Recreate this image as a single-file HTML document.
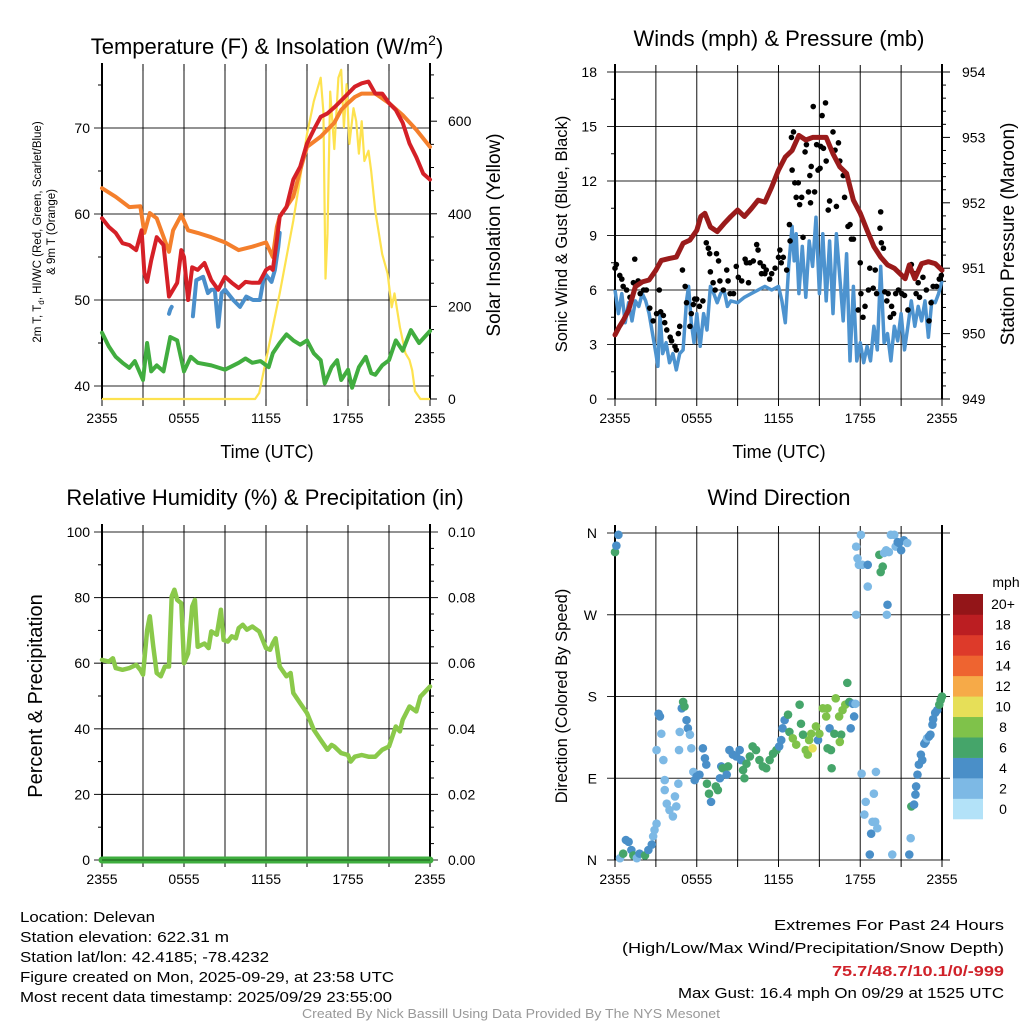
<!DOCTYPE html>
<html><head><meta charset="utf-8"><style>
html,body{margin:0;padding:0;background:#fff;}
svg{display:block;font-family:"Liberation Sans",Arial,sans-serif;}
</style></head><body>
<svg id="fig" width="1024" height="1024" viewBox="0 0 1024 1024" xmlns="http://www.w3.org/2000/svg"></svg>
<script>
// ---------- Panel 1: temperature & insolation ----------
const tempHours=[0,0.5,1,1.5,2,2.5,2.9,3.1,3.3,3.6,4,4.5,4.9,5.2,5.5,5.8,6,6.3,6.6,7,7.5,8,8.5,9,9.5,10,10.5,11,11.5,12,12.3,12.5,12.8,13,13.5,14,14.5,15,15.5,16,16.5,17,17.5,18,18.5,19,19.5,20,20.5,21,21.5,22,22.5,23,23.5,24];
const tempVals=[59.5,58.5,57.8,56.6,56.4,55.8,58.1,53.1,52.1,54.6,57.3,56.4,50.4,51.2,52,55.8,55,50,53.8,53.5,54.3,52.3,51.2,52.7,52,51.4,52.1,52,52,53.5,53.8,53.5,57,59.7,60.8,64,65.5,68.2,69.8,71.3,71.7,72.4,73.2,74,74.8,75.2,75.4,74,74,72.9,72.1,70.6,68.2,66.6,64.7,64];
const t9Hours=[0,1,2,2.8,3.1,3.5,4,4.9,5.2,5.8,6.3,7,8,9,10,11,12,12.5,12.8,13,14,14.5,15,16,17,17.5,18,18.5,19,20,21,22,23,24];
const t9Vals=[63,62,60.8,60.9,57.8,60.1,59.5,55.6,58.1,59.9,58.1,57.8,57.3,56.7,55.8,56.2,56.7,55,58.5,59.7,62,65.1,67.8,69,70.6,72.1,72.9,73.6,74,74,72.9,71.5,69.8,67.8];
const wcHours=[4.9,5.0,5.1,null,6.65,6.9,7.4,7.75,8.0,8.25,8.5,8.75,9.0,9.6,10.1,10.55,11.05,11.55,11.9,12.4,12.65,12.9,13.0];
const wcVals=[48.4,48.9,49.2,null,48.1,52.3,52.7,50.8,51.2,51.2,46.9,50.8,51.2,50,49.2,50.4,50,50,53.1,52.1,53.5,56.2,57.8];
const dewHours=[0,0.5,1,1.5,2,2.4,3,3.3,3.6,4,4.5,5,5.5,6,6.5,7,8,9,10,10.5,11,11.6,12.2,12.5,13,13.5,14,14.5,15,15.5,16,16.3,16.8,17.2,17.5,18,18.3,18.8,19.3,19.7,20,20.5,21,21.5,22,22.6,23.2,24];
const dewVals=[46.2,44.6,43.4,42.7,42.1,42.9,40.7,45,41.7,42.4,41.7,45.7,45.3,41.7,43.4,42.7,42.4,41.9,42.7,43.2,42.7,42.9,42.2,43.8,45,46,45.3,44.8,45.3,43.8,43,40.3,42.2,43,40.7,41.9,39.8,42.2,43.4,41.5,41.3,42.4,43,45.3,44.1,46.5,45,46.4];
const solHours=[0,11.2,11.5,12,13,14,14.5,15,15.5,16,16.2,16.35,16.5,16.7,17,17.3,17.5,17.7,17.9,18.1,18.4,18.6,18.8,19,19.2,19.5,19.7,20,20.5,20.9,21.2,21.4,21.8,22.2,22.5,22.7,22.9,23.3,24];
const solVals=[0,0,13,84,228,385,478,572,643,694,620,260,357,664,540,694,711,587,680,551,628,600,530,600,514,536,492,406,313,271,198,228,155,99,84,62,17,0,0];
const p1TempTicks=[40,50,60,70];
const p1SolTicks=[0,200,400,600];
// ---------- Panel 2: winds & pressure ----------
const presHours=[0,0.3,0.6,1,1.5,2,2.5,3,3.4,4,4.5,5,5.5,6,6.3,6.6,7,7.5,8,8.5,9,9.5,10,10.5,11,11.5,12,12.5,13,13.5,14,14.5,15,15.5,16,16.5,17,17.5,18,18.5,19,19.5,20,20.5,21,21.3,21.6,22,22.5,23,23.5,24];
const presVals=[949.98,950.1,950.2,950.36,950.72,950.79,950.82,950.97,951.12,951.15,951.17,951.38,951.43,951.58,951.79,951.84,951.63,951.56,951.68,951.79,951.89,951.79,951.91,952.04,952.01,952.24,952.5,952.7,952.8,953.03,952.96,953.0,953.0,953.0,952.75,952.55,952.45,952.04,951.84,951.58,951.33,951.17,951.05,951.0,950.9,950.84,951.05,950.84,951.07,951.1,951.07,950.97];
const windHours=[0,0.25,0.5,0.75,1,1.25,1.5,1.75,2,2.25,2.5,2.75,3,3.15,3.3,3.5,3.75,4,4.25,4.5,4.75,5,5.25,5.4,5.6,5.8,6,6.25,6.5,6.75,7,7.25,7.5,7.75,8,8.25,8.5,9,9.5,10,10.5,11,11.5,12,12.25,12.5,12.75,13,13.15,13.3,13.5,13.75,14,14.25,14.5,14.75,15,15.25,15.5,15.75,16,16.25,16.5,16.75,17,17.25,17.5,17.75,18,18.25,18.5,18.75,19,19.25,19.5,19.75,20,20.25,20.5,20.75,21,21.25,21.5,21.75,22,22.25,22.5,22.75,23,23.25,23.5,23.75,24];
const windVals=[6.0,4.7,5.8,4.2,5.3,4.3,5.4,5.1,5.8,5.4,4.7,3.6,2.5,1.8,4.7,2.5,3.1,2.0,2.5,1.6,2.5,2.7,5.4,6.2,4.2,3.1,4.7,2.9,4.7,3.8,6.2,5.8,5.3,5.8,6.0,5.1,5.4,5.3,5.6,5.8,6.0,6.2,6.0,6.2,5.4,4.2,7.3,9.5,7.6,9.1,5.8,8.4,5.6,8.7,7.3,10.0,5.8,9.1,5.4,8.7,4.7,9.1,6.7,4.3,8.0,2.1,6.2,2.1,3.1,2.0,2.9,2.1,4.0,2.7,7.3,3.1,3.6,2.1,4.0,3.2,4.7,2.7,4.0,5.4,4.0,5.1,4.3,5.4,3.4,5.4,5.3,5.8,6.5];
const gustHours=[0,0.1,0.35,0.5,0.6,0.85,1.1,1.45,1.35,1.7,1.85,2.1,2.3,2.55,2.8,3.05,3.25,3.35,3.55,3.65,3.8,4.05,4.15,4.4,4.5,4.65,4.75,4.95,5.15,5.25,5.5,5.6,5.75,5.85,6.0,6.2,6.45,6.7,6.85,6.95,7.0,7.2,7.35,7.45,7.6,7.7,7.95,8.2,8.3,8.45,8.7,8.9,9.05,9.3,9.55,9.65,9.8,9.9,10.15,10.4,10.5,10.65,10.75,10.9,11.0,11.1,11.35,11.5,11.75,12.0,12.1,12.2,12.35,12.6,12.8,12.85,12.95,13.1,13.0,13.2,13.3,13.45,13.55,13.7,13.8,13.95,14.05,14.2,14.3,14.35,14.4,14.55,14.65,14.8,14.9,15.05,15.1,15.2,15.3,15.45,15.5,15.65,15.75,16.0,16.15,16.25,16.4,16.5,16.75,16.85,17.0,17.1,17.25,17.35,17.5,18.0,17.85,18.05,18.2,18.35,18.6,18.7,18.95,19.1,19.2,19.45,19.5,19.55,19.7,19.8,19.95,20.05,20.2,20.3,20.45,20.6,20.8,21.05,21.25,21.5,21.75,22.0,22.1,22.25,22.35,22.6,22.85,23.05,23.2,23.35,23.6,23.8,23.95];
const gustVals=[7.2,7.4,6.8,6.6,6.2,6.0,5.6,7.7,6.4,6.5,5.8,6.0,6.0,5.0,4.3,4.7,6.0,4.8,4.6,4.2,3.8,3.4,3.2,2.9,2.7,3.6,4.0,7.1,6.2,5.3,4.0,4.7,5.2,5.5,5.5,5.1,5.4,8.6,8.3,8.0,7.0,6.4,6.0,8.0,7.6,6.5,6.0,7.1,6.5,5.8,5.8,7.3,6.7,6.5,7.7,7.5,6.4,7.5,7.6,8.5,8.2,7.5,6.9,7.3,6.9,7.1,6.6,6.9,7.2,7.8,8.2,7.5,7.8,7.1,9.6,8.7,14.4,14.7,12.6,11.9,11.1,11.9,10.7,11.1,8.9,13.6,14.0,11.4,12.3,10.8,12.8,16.1,11.4,14.0,12.6,12.7,13.9,15.6,13.8,16.3,13.1,10.4,10.9,14.7,13.7,10.6,14.1,13.1,12.3,11.1,12.3,9.5,9.6,8.8,8.8,7.5,4.9,5.8,4.5,5.1,6.0,7.2,6.1,7.1,5.8,9.4,10.3,8.6,8.3,5.9,5.4,5.8,4.5,5.1,4.7,5.8,6.0,5.8,5.7,4.9,7.4,6.9,5.8,6.4,5.6,6.7,6.0,4.3,5.3,6.2,6.2,6.6,6.8];
const p2SpeedTicks=[0,3,6,9,12,15,18];
const p2PresTicks=[949,950,951,952,953,954];
// ---------- Panel 3: RH & precipitation ----------
const rhHours=[0,0.5,0.8,1,1.5,2,2.5,2.8,3,3.3,3.5,3.75,4,4.3,4.6,4.9,5.1,5.3,5.5,5.8,6,6.3,6.6,6.8,7,7.5,7.8,8,8.4,8.7,8.9,9.2,9.5,9.8,10,10.3,10.6,11,11.5,12,12.3,12.5,12.7,13,13.5,13.8,14,14.5,15,15.5,16,16.5,16.8,17,17.5,18,18.2,18.5,19,19.5,20,20.5,21,21.5,21.8,22,22.5,23,23.3,24];
const rhVals=[61,60.5,61.5,58.5,58,58.5,59.5,58,56.5,70,74.3,65,57,56,59,59,80.4,82.4,79.3,78.3,60,63,77.3,79.3,65,66,64.6,69.7,68.7,76.3,67.1,66.6,68.2,67.6,70.7,71.7,70.2,71.2,69.7,64.6,64.1,66.1,67.6,59,56,57,50.9,47.8,44.8,39.7,36.6,33.6,35.1,34.6,32.6,32,30,31.5,32,31.5,31.5,33.6,34.6,40.7,39.2,42.7,46.8,45.3,49.8,52.9];
const precipHours=[0,24];
const precipVals=[0,0];
const p3RhTicks=[0,20,40,60,80,100];
const p3PrTicks=["0.00","0.02","0.04","0.06","0.08","0.10"];
// ---------- Panel 4: wind direction ----------
const dirHours=[0,0.1,0.25,0.37,0.6,0.8,1.0,1.2,1.35,1.6,1.8,2.2,2.45,2.7,2.8,2.9,3.05,3.2,3.3,3.05,3.4,3.55,3.65,3.65,3.8,4.0,4.25,4.4,4.5,4.65,4.7,4.75,4.9,5.0,5.1,5.25,5.35,5.5,5.6,5.75,5.85,6.0,6.2,6.45,6.6,6.7,6.75,6.9,7.05,7.4,7.55,7.7,7.8,7.9,8.2,8.3,8.4,8.65,8.9,9.15,9.25,9.4,9.5,9.65,9.9,10.1,10.35,10.6,10.85,11.1,11.35,11.6,11.85,12.05,12.2,12.3,12.45,12.7,12.8,13.05,13.3,13.55,13.65,13.8,14.0,14.15,14.25,14.4,14.5,14.75,14.9,15.0,15.25,15.5,15.6,15.75,15.6,15.85,15.9,16.1,16.2,16.45,16.6,16.5,16.7,16.9,17.05,17.2,17.3,17.45,17.55,17.65,17.7,17.7,17.8,17.9,18.05,18.1,18.15,18.4,18.55,18.55,18.3,18.7,18.8,18.9,19.0,19.1,19.15,19.25,19.4,19.5,19.65,19.75,19.9,20.0,19.95,20.1,20.25,20.35,20.5,20.6,20.75,20.85,21.0,21.2,21.45,21.6,21.7,21.75,21.95,22.05,22.1,22.2,22.3,22.45,22.55,22.7,22.8,22.9,23.05,23.15,23.3,23.35,23.5,23.65,23.8,23.9,24.0];
const dirVals=[339,346,358,2,7,22,20,11,5,2,7,5,11,17,26,33,40,161,158,121,139,110,88,77,62,55,48,70,59,84,121,141,167,174,169,154,145,138,123,97,88,92,94,123,112,105,84,73,64,81,77,90,103,101,94,103,121,116,114,121,110,99,90,106,114,125,121,110,103,101,110,117,121,125,132,145,154,160,141,134,127,171,150,138,121,116,132,139,123,147,132,139,167,158,167,145,123,121,101,139,178,158,138,130,165,171,195,174,145,172,158,172,270,345,332,325,358,95,325,64,325,301,50,6,29,42,73,42,97,35,336,317,323,338,341,281,270,339,358,6,358,345,350,349,341,352,349,6,24,59,61,72,81,94,105,116,110,128,130,134,136,138,149,155,162,165,171,176,180];
const dirSpeeds=[6,4,4,2,6,4,4,4,6,2,4,6,4,4,2,2,2,4,4,2,2,2,2,2,2,2,2,2,2,2,2,2,4,6,6,4,4,2,2,2,4,4,4,4,4,4,6,6,4,6,6,4,4,6,4,6,4,4,4,4,4,6,6,6,6,6,6,6,6,6,6,6,6,4,4,4,4,6,6,8,8,6,6,6,8,8,8,8,10,8,4,8,8,8,8,4,6,6,6,6,8,8,6,8,8,8,6,6,4,4,4,2,2,2,2,2,2,2,2,2,4,2,2,4,4,2,2,2,2,2,6,6,6,2,2,4,2,2,2,2,2,2,4,4,4,4,2,4,2,6,4,4,4,4,4,4,4,4,4,2,4,4,4,4,4,4,6,6,6];
const dirTickLabels=["N","E","S","W","N"];
const cbarLabels=["0","2","4","6","8","10","12","14","16","18","20+"];
const cbarColors=["#b3e2f8","#7db9e5","#4a8fc8","#45a56a","#7fc24a","#e6df58","#f6aa48","#ee6430","#dd3a2a","#bb1e22","#931518"];
const xTickLabels=["2355","0555","1155","1755","2355"];

const NS="http://www.w3.org/2000/svg";
const svg=document.getElementById("fig");
function el(tag,attrs,parent){const e=document.createElementNS(NS,tag);for(const k in attrs)e.setAttribute(k,attrs[k]);(parent||svg).appendChild(e);return e;}
function txt(s,x,y,size,anchor,parent,extra){const t=el("text",Object.assign({x:x,y:y,"font-size":size,"text-anchor":anchor||"start",fill:"#000"},extra||{}),parent);t.textContent=s;return t;}
function pathD(xs,ys,fx,fy){let d="",pen=false;for(let i=0;i<xs.length;i++){if(xs[i]===null||ys[i]===null){pen=false;continue;}d+=(pen?"L":"M")+fx(xs[i]).toFixed(1)+","+fy(ys[i]).toFixed(1);pen=true;}return d;}

// generic panel frame
function frame(g,L,R,T,B,name){
  for(let h=3;h<24;h+=3){const x=L+h*(R-L)/24;const l=el("line",{x1:x,y1:T,x2:x,y2:B,stroke:"#000","stroke-width":1.1,opacity:0.85},g);
  
  }
  for(let h=0;h<=24;h+=3){const x=L+h*(R-L)/24;el("line",{x1:x,y1:B,x2:x,y2:B+7,stroke:"#000","stroke-width":1},g);el("line",{x1:x,y1:T,x2:x,y2:T-7,stroke:"#000","stroke-width":1},g);}
  xTickLabels.forEach((s,i)=>{const t=txt(s,L+i*6*(R-L)/24,B+24,14,"middle",g);
  
  });
}
function border(g,L,R,T,B){el("line",{x1:L,y1:T-8,x2:L,y2:B,stroke:"#000","stroke-width":2},g);el("line",{x1:R,y1:T-8,x2:R,y2:B,stroke:"#000","stroke-width":2},g);}

// ===== Panel 1 =====
{const L=102,R=430,T=71,B=399;
 const g=el("g",{});
 
 
 const X=h=>L+h*(R-L)/24, YT=t=>386-(t-40)*8.6, YI=v=>399-v*0.463;
 frame(g,L,R,T,B);
 p1TempTicks.forEach(v=>{const y=YT(v);el("line",{x1:L-8,y1:y,x2:R,y2:y,stroke:"#000","stroke-width":1.1,opacity:0.85},g);const t=txt(String(v),90,y+5,14,"end",g);
  
  });
 for(let v=45;v<=75;v+=10){const y=YT(v);el("line",{x1:L-4,y1:y,x2:L,y2:y,stroke:"#000"},g);}
 p1SolTicks.forEach(v=>{const y=YI(v);el("line",{x1:R,y1:y,x2:R+7,y2:y,stroke:"#000"},g);const t=txt(String(v),448,y+5,14,"start",g);
  
  });
 for(let v=50;v<=700;v+=50){if(v%200)el("line",{x1:R,y1:YI(v),x2:R+4,y2:YI(v),stroke:"#000"},g);}
 border(g,L,R,T,B);
 const sol=el("path",{d:pathD(solHours,solVals,X,YI),fill:"none",stroke:"#fde24f","stroke-width":2.2,"stroke-linejoin":"round"},g);
 
 
 const dew=el("path",{d:pathD(dewHours,dewVals,X,YT),fill:"none",stroke:"#41ad3f","stroke-width":4,"stroke-linejoin":"round","stroke-linecap":"round"},g);
 
 
 const t9=el("path",{d:pathD(t9Hours,t9Vals,X,YT),fill:"none",stroke:"#f47f2c","stroke-width":4,"stroke-linejoin":"round","stroke-linecap":"round"},g);
 
 
 const wc=el("path",{d:pathD(wcHours,wcVals,X,YT),fill:"none",stroke:"#4a8fcb","stroke-width":4,"stroke-linejoin":"round","stroke-linecap":"round"},g);
 
 
 const tp=el("path",{d:pathD(tempHours,tempVals,X,YT),fill:"none",stroke:"#d52027","stroke-width":4,"stroke-linejoin":"round","stroke-linecap":"round"},g);
 
 
 const ti=el("text",{x:267,y:54,"font-size":22,"text-anchor":"middle"},g);
 ti.innerHTML='Temperature (F) &amp; Insolation (W/m<tspan font-size="14" dy="-9">2</tspan><tspan dy="9">)</tspan>';
 
 
 const yl=el("text",{transform:"translate(41,232) rotate(-90)","font-size":11.5,"text-anchor":"middle"},g);
 yl.innerHTML='2m T, T<tspan font-size="8" dy="3">d</tspan><tspan dy="-3">, HI/WC (Red, Green, Scarlet/Blue)</tspan>';
 
 
 const yl2=txt("& 9m T (Orange)",0,0,11.5,"middle",g,{transform:"translate(55,232) rotate(-90)"});
 
 
 const yr=txt("Solar Insolation (Yellow)",0,0,19,"middle",g,{transform:"translate(500,235) rotate(-90)"});
 
 
 const xl=txt("Time (UTC)",267,458,18,"middle",g);
 
 
}

// ===== Panel 2 =====
{const L=615,R=942,T=72,B=399;
 const g=el("g",{});
 
 
 const X=h=>L+h*(R-L)/24, YS=s=>B-s*(B-T)/18, YP=p=>B-(p-949)*(B-T)/5;
 frame(g,L,R,T,B);
 p2SpeedTicks.forEach(v=>{const y=YS(v);el("line",{x1:L-8,y1:y,x2:R,y2:y,stroke:"#000","stroke-width":1.1,opacity:0.85},g);const t=txt(String(v),597,y+5,14,"end",g);
  
  });
 for(let v=1.5;v<18;v+=3){el("line",{x1:L-4,y1:YS(v),x2:L,y2:YS(v),stroke:"#000"},g);}
 p2PresTicks.forEach(v=>{const y=YP(v);el("line",{x1:R,y1:y,x2:R+8,y2:y,stroke:"#000"},g);const t=txt(String(v),962,y+5,14,"start",g);
  
  });
 for(let v=949.2;v<954;v+=0.2){if(Math.abs(v-Math.round(v))>0.05)el("line",{x1:R,y1:YP(v),x2:R+4,y2:YP(v),stroke:"#000"},g);}
 border(g,L,R,T,B);
 const w=el("path",{d:pathD(windHours,windVals,X,YS),fill:"none",stroke:"#4d93cf","stroke-width":3.5,"stroke-linejoin":"round"},g);
 
 
 gustHours.forEach((h,i)=>{const c=el("circle",{cx:X(h),cy:YS(gustVals[i]),r:2.8,fill:"#000"},g);
  
  });
 const p=el("path",{d:pathD(presHours,presVals,X,YP),fill:"none",stroke:"#9a1b1b","stroke-width":5,"stroke-linejoin":"round","stroke-linecap":"round"},g);
 
 
 const ti=txt("Winds (mph) & Pressure (mb)",779,46,22,"middle",g);
 
 
 const yl=txt("Sonic Wind & Gust (Blue, Black)",0,0,16.5,"middle",g,{transform:"translate(567,234) rotate(-90)"});
 
 
 const yr=txt("Station Pressure (Maroon)",0,0,19,"middle",g,{transform:"translate(1014,234) rotate(-90)"});
 
 
 const xl=txt("Time (UTC)",779,458,18,"middle",g);
 
 
}

// ===== Panel 3 =====
{const L=102,R=430,T=532,B=860;
 const g=el("g",{});
 
 
 const X=h=>L+h*(R-L)/24, YR=r=>B-r*(B-T)/100, YPr=p=>B-p*(B-T)/0.1;
 frame(g,L,R,T,B);
 p3RhTicks.forEach(v=>{const y=YR(v);el("line",{x1:L-8,y1:y,x2:R+8,y2:y,stroke:"#000","stroke-width":1.1,opacity:0.85},g);const t=txt(String(v),90,y+5,14,"end",g);
  
  });
 p3PrTicks.forEach((s,i)=>{const t=txt(s,448,YR(i*20)+5,14,"start",g);
  
  });
 for(let v=10;v<100;v+=20){el("line",{x1:L-4,y1:YR(v),x2:L,y2:YR(v),stroke:"#000"},g);}
 for(let v=5;v<100;v+=5){if(v%20)el("line",{x1:R,y1:YR(v),x2:R+4,y2:YR(v),stroke:"#000"},g);}
 border(g,L,R,T,B);
 const rh=el("path",{d:pathD(rhHours,rhVals,X,YR),fill:"none",stroke:"#8ac94a","stroke-width":4.5,"stroke-linejoin":"round","stroke-linecap":"round"},g);
 
 
 const pr=el("path",{d:pathD(precipHours,precipVals,X,YPr),fill:"none",stroke:"#3fae3f","stroke-width":7,"stroke-linecap":"round"},g);
 
 
 el("line",{x1:L,y1:B,x2:R,y2:B,stroke:"#1a5a1a","stroke-width":1},g);
 const ti=txt("Relative Humidity (%) & Precipitation (in)",265,505,22,"middle",g);
 
 
 const yl=txt("Percent & Precipitation",0,0,20,"middle",g,{transform:"translate(42,696) rotate(-90)"});
 
 
}

// ===== Panel 4 =====
{const L=615,R=942,T=533,B=860;
 const g=el("g",{});
 
 
 const X=h=>L+h*(R-L)/24, YD=d=>B-d*(B-T)/360;
 frame(g,L,R,T,B);
 dirTickLabels.forEach((s,i)=>{const y=YD(i*90);el("line",{x1:L-8,y1:y,x2:R+8,y2:y,stroke:"#000","stroke-width":1.1,opacity:0.85},g);const t=txt(s,597,y+5,14,"end",g);
  
  });
 border(g,L,R,T,B);
 function spdColor(s){let i=Math.min(10,Math.max(0,Math.floor(s/2)));return cbarColors[i];}
 dirHours.forEach((h,i)=>{const c=el("circle",{cx:X(h),cy:YD(dirVals[i]),r:4.3,fill:spdColor(dirSpeeds[i])},g);
  
  });
 const ti=txt("Wind Direction",779,505,22,"middle",g);
 
 
 const yl=txt("Direction (Colored By Speed)",0,0,16.5,"middle",g,{transform:"translate(567,696) rotate(-90)"});
 
 
 const cb=el("g",{},g);
 
 
 const cbT=594,cbB=819,bh=(cbB-cbT)/11;
 cbarColors.forEach((c,i)=>{const r=el("rect",{x:953,y:cbB-(i+1)*bh,width:30,height:bh+0.3,fill:c},cb);
  
  
  const t=txt(cbarLabels[i],1003,cbB-(i+0.5)*bh+5,14,"middle",cb);
  
  });
 const u=txt("mph",1006,587,14,"middle",cb);
 
 
}

// ===== Footer =====
{const g=el("g",{});
 
 
 const left=[["Location: Delevan",135],["Station elevation: 622.31 m",209],["Station lat/lon: 42.4185; -78.4232",249],["Figure created on Mon, 2025-09-29, at 23:58 UTC",374],["Most recent data timestamp: 2025/09/29 23:55:00",372]];
 left.forEach((a,i)=>{const t=txt(a[0],20,922+i*20,14.5,"start",g,{textLength:a[1],lengthAdjust:"spacingAndGlyphs"});
  
  });
 const right=[["Extremes For Past 24 Hours",930,230,"#000","normal"],["(High/Low/Max Wind/Precipitation/Snow Depth)",953,382,"#000","normal"],["75.7/48.7/10.1/0/-999",976,172,"#d0222a","bold"],["Max Gust: 16.4 mph On 09/29 at 1525 UTC",998,326,"#000","normal"]];
 right.forEach(a=>{const t=txt(a[0],1004,a[1],14.5,"end",g,{textLength:a[2],lengthAdjust:"spacingAndGlyphs",fill:a[3],"font-weight":a[4]});
  
  });
 const c=txt("Created By Nick Bassill Using Data Provided By The NYS Mesonet",511,1018,12.5,"middle",g,{fill:"#999",textLength:418,lengthAdjust:"spacingAndGlyphs"});
 
 
}
</script>
</body></html>
